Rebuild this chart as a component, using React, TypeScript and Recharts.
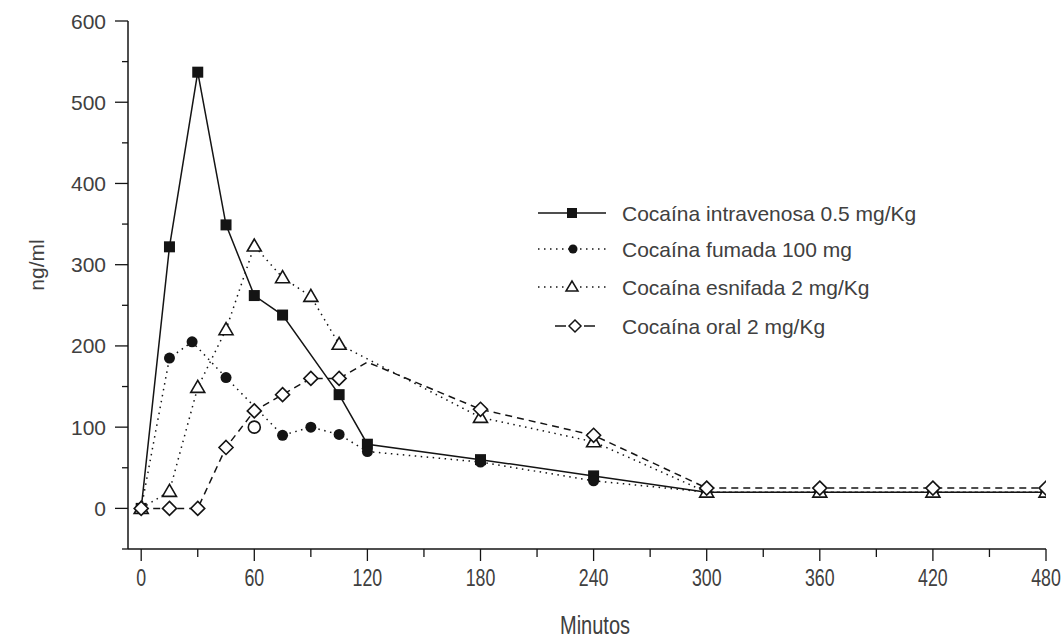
import React from 'react';
import { LineChart, Line, XAxis, YAxis } from 'recharts';

// ---- data (minutes, ng/ml) ----
const ivMin = [0, 15, 30, 45, 60, 75, 105, 120, 180, 240, 300, 360, 420, 480];
const ivConc = [0, 322, 537, 349, 262, 238, 140, 79, 60, 40, 20, 20, 20, 20];

const fumMin = [0, 15, 27, 45, 75, 90, 105, 120, 180, 240, 300, 360, 420, 480];
const fumConc = [0, 185, 205, 161, 90, 100, 91, 70, 57, 34, 20, 20, 20, 20];

const esnMin = [0, 15, 30, 45, 60, 75, 90, 105, 180, 240, 300, 360, 420, 480];
const esnConc = [0, 21, 149, 220, 323, 284, 261, 202, 112, 82, 20, 20, 20, 20];

const oralMin = [0, 15, 30, 45, 60, 75, 90, 105, 120, 180, 240, 300, 360, 420, 480];
const oralConc = [0, 0, 0, 75, 120, 140, 160, 160, 180, 122, 90, 25, 25, 25, 25];
const oralNoMarkerAt = [120];

const strayMin = [60];
const strayConc = [100];

const seriesNames = [
  'Cocaína intravenosa 0.5 mg/Kg',
  'Cocaína fumada 100 mg',
  'Cocaína esnifada 2 mg/Kg',
  'Cocaína oral 2 mg/Kg',
];

const xTicks = [0, 30, 60, 90, 120, 150, 180, 210, 240, 270, 300, 330, 360, 390, 420, 450, 480];
const yTicks = [-50, 0, 50, 100, 150, 200, 250, 300, 350, 400, 450, 500, 550, 600];

const zip = (xs: number[], ys: number[]) => xs.map((x, i) => ({ x, y: ys[i] }));
const ivData = zip(ivMin, ivConc);
const fumData = zip(fumMin, fumConc);
const esnData = zip(esnMin, esnConc);
const oralData = zip(oralMin, oralConc);
const strayData = zip(strayMin, strayConc);

const INK = '#141414';
const TXT = '#404040';
const FONT = '"Liberation Sans", Arial, sans-serif';

const Square = (p: any) => {
  if (p.cx == null || p.cy == null) return null;
  return <rect key={p.index} x={p.cx - 5.5} y={p.cy - 5.5} width={11} height={11} fill={INK} />;
};
const Dot = (p: any) => {
  if (p.cx == null || p.cy == null) return null;
  return <circle key={p.index} cx={p.cx} cy={p.cy} r={5.5} fill={INK} />;
};
const Tri = (p: any) => {
  if (p.cx == null || p.cy == null) return null;
  const { cx, cy } = p;
  return (
    <polygon
      key={p.index}
      points={`${cx},${cy - 7} ${cx - 7},${cy + 5} ${cx + 7},${cy + 5}`}
      fill="#fff"
      stroke={INK}
      strokeWidth={1.6}
    />
  );
};
const Diamond = (p: any) => {
  if (p.cx == null || p.cy == null) return null;
  if (p.payload && oralNoMarkerAt.includes(p.payload.x)) return null;
  const { cx, cy } = p;
  return (
    <polygon
      key={p.index}
      points={`${cx},${cy - 7} ${cx + 7},${cy} ${cx},${cy + 7} ${cx - 7},${cy}`}
      fill="#fff"
      stroke={INK}
      strokeWidth={1.6}
    />
  );
};
const OpenCircle = (p: any) => {
  if (p.cx == null || p.cy == null) return null;
  return <circle key={p.index} cx={p.cx} cy={p.cy} r={6} fill="#fff" stroke={INK} strokeWidth={1.6} />;
};

const XTick = (p: any) => {
  const { x, y, payload } = p;
  const v = payload.value;
  const major = v % 60 === 0;
  return (
    <g>
      <line x1={x} x2={x} y1={y} y2={y + (major ? 12 : 8)} stroke={INK} strokeWidth={1.3} />
      {major && (
        <text
          transform={`translate(${x},${y + 28}) scale(0.74,1)`}
          textAnchor="middle"
          dominantBaseline="central"
          fontFamily={FONT}
          fontSize={24}
          fill={TXT}
        >
          {v}
        </text>
      )}
    </g>
  );
};

const YTick = (p: any) => {
  const { x, y, payload } = p;
  const v = payload.value;
  const major = v % 100 === 0;
  return (
    <g>
      <line x1={x - (major ? 13 : 6)} x2={x} y1={y} y2={y} stroke={INK} strokeWidth={1.3} />
      {major && v >= 0 && (
        <text x={x - 22} y={y} textAnchor="end" dominantBaseline="central" fontFamily={FONT} fontSize={21} fill={TXT}>
          {v}
        </text>
      )}
    </g>
  );
};

const legendRows = [213, 249, 287, 326];

const LegendBox = () => {
  const ox = 530;
  const oy = 190;
  const r = legendRows.map((y) => y - oy);
  const tx = 622 - ox;
  return (
    <svg width={420} height={160} style={{ position: 'absolute', left: ox, top: oy, display: 'block' }}>
      {/* row 1 */}
      <line x1={8} x2={76} y1={r[0]} y2={r[0]} stroke={INK} strokeWidth={1.5} />
      <rect x={42 - 5} y={r[0] - 5} width={10} height={10} fill={INK} />
      {/* row 2 */}
      <line x1={8} x2={76} y1={r[1]} y2={r[1]} stroke={INK} strokeWidth={1.5} strokeDasharray="1.5 4.5" />
      <circle cx={43} cy={r[1]} r={4.5} fill={INK} />
      {/* row 3 */}
      <line x1={8} x2={77} y1={r[2]} y2={r[2]} stroke={INK} strokeWidth={1.5} strokeDasharray="1.5 4.5" />
      <polygon points={`${42},${r[2] - 6} ${36},${r[2] + 4} ${48},${r[2] + 4}`} fill="#fff" stroke={INK} strokeWidth={1.5} />
      {/* row 4 */}
      <line x1={25} x2={36} y1={r[3]} y2={r[3]} stroke={INK} strokeWidth={1.5} />
      <line x1={54} x2={65} y1={r[3]} y2={r[3]} stroke={INK} strokeWidth={1.5} />
      <polygon points={`${45},${r[3] - 6} ${51},${r[3]} ${45},${r[3] + 6} ${39},${r[3]}`} fill="#fff" stroke={INK} strokeWidth={1.5} />
      {seriesNames.map((n, i) => (
        <text key={n} x={tx} y={r[i]} dominantBaseline="central" fontFamily={FONT} fontSize={21} fill={TXT}>
          {n}
        </text>
      ))}
    </svg>
  );
};

export default function App() {
  return (
    <div style={{ position: 'absolute', left: 0, top: 0, width: 1063, height: 639, background: '#fff' }}>
      <LineChart width={1063} height={639} margin={{ top: 21, right: 17, bottom: 30, left: 68 }}>
        <XAxis
          type="number"
          dataKey="x"
          domain={[-7, 480]}
          ticks={xTicks}
          interval={0}
          tick={<XTick />}
          tickLine={false}
          tickSize={0}
          tickMargin={0}
          axisLine={{ stroke: INK, strokeWidth: 1.5 }}
          height={60}
          allowDataOverflow
        />
        <YAxis
          type="number"
          dataKey="y"
          domain={[-50, 600]}
          ticks={yTicks}
          interval={0}
          tick={<YTick />}
          tickLine={false}
          tickSize={0}
          tickMargin={0}
          axisLine={{ stroke: INK, strokeWidth: 1.5 }}
          width={60}
          allowDataOverflow
        />
        <Line name={seriesNames[0]} data={ivData} dataKey="y" stroke={INK} strokeWidth={1.5} dot={Square} isAnimationActive={false} />
        <Line name={seriesNames[1]} data={fumData} dataKey="y" stroke={INK} strokeWidth={1.5} strokeDasharray="1.5 4.5" dot={Dot} isAnimationActive={false} />
        <Line name={seriesNames[2]} data={esnData} dataKey="y" stroke={INK} strokeWidth={1.5} strokeDasharray="1.5 4.5" dot={Tri} isAnimationActive={false} />
        <Line name={seriesNames[3]} data={oralData} dataKey="y" stroke={INK} strokeWidth={1.5} strokeDasharray="7 5" dot={Diamond} isAnimationActive={false} />
        <Line name="extra" legendType="none" data={strayData} dataKey="y" stroke="none" dot={OpenCircle} isAnimationActive={false} />
      </LineChart>
      <LegendBox />
      <div
        style={{
          position: 'absolute',
          left: 495,
          top: 611,
          width: 200,
          textAlign: 'center',
          fontFamily: FONT,
          fontSize: 25,
          color: TXT,
          lineHeight: '28px',
          transform: 'scaleX(0.8)',
        }}
      >
        Minutos
      </div>
      <div
        style={{
          position: 'absolute',
          left: 37,
          top: 265,
          transform: 'translate(-50%, -50%) rotate(-90deg)',
          fontFamily: FONT,
          fontSize: 21,
          color: TXT,
          whiteSpace: 'nowrap',
          lineHeight: '24px',
        }}
      >
        ng/ml
      </div>
    </div>
  );
}
